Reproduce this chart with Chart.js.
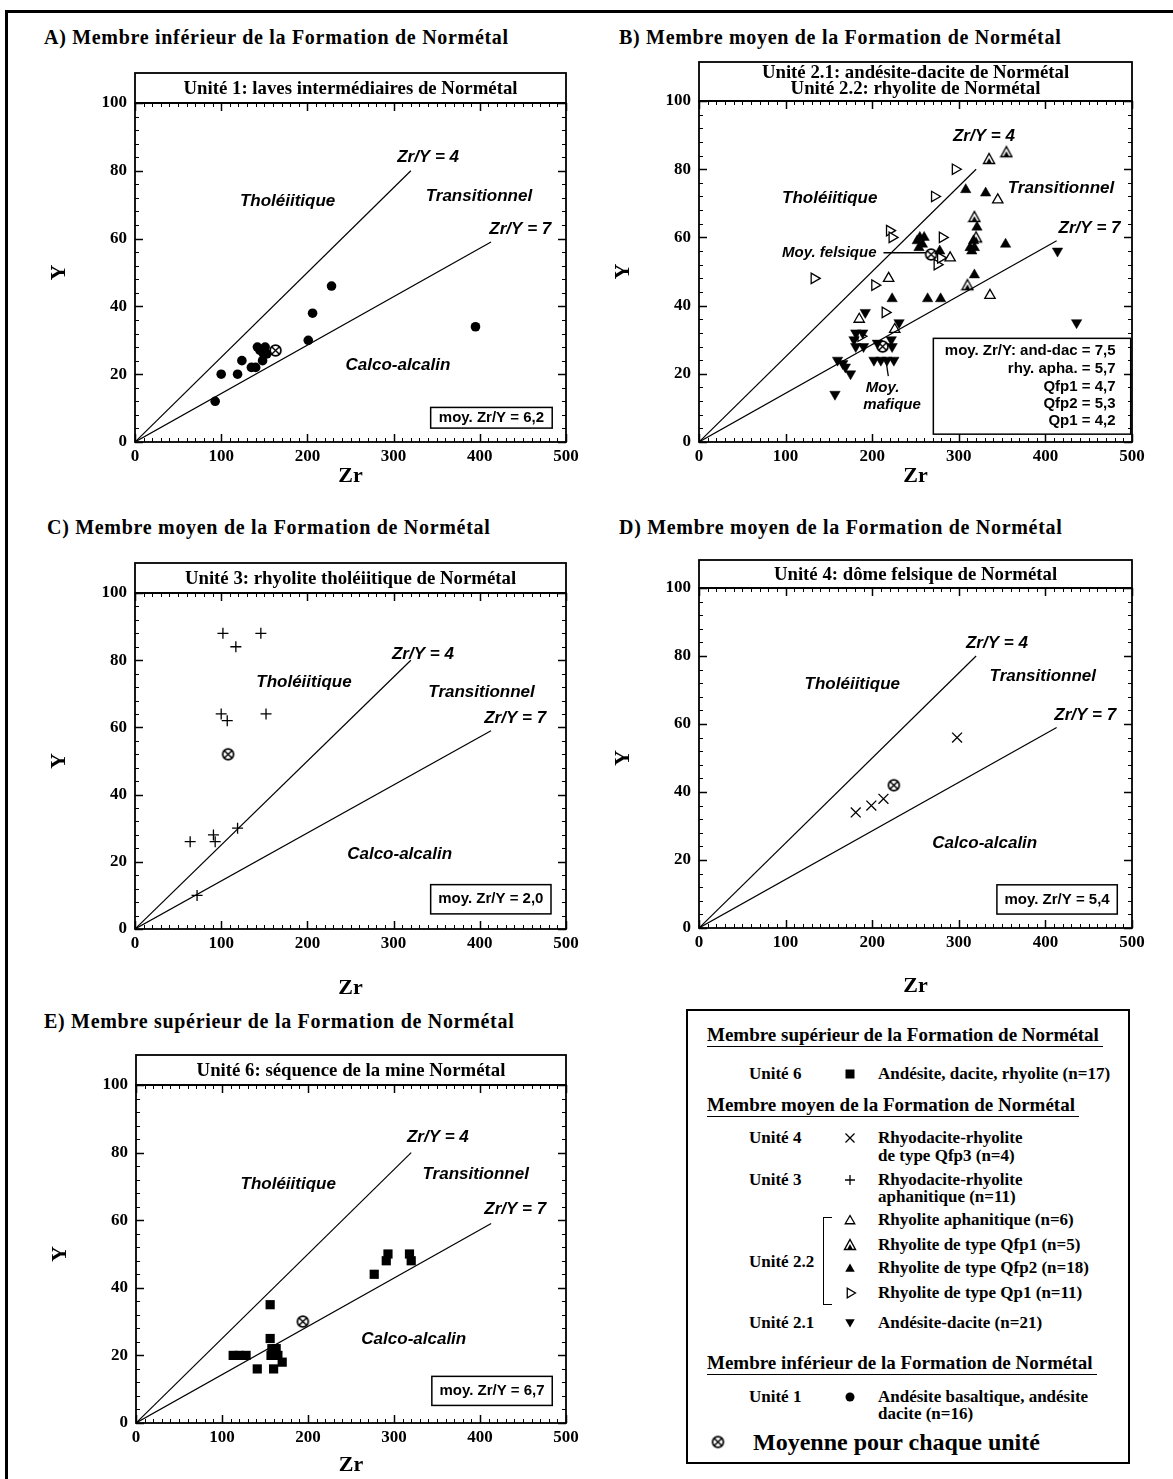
<!DOCTYPE html>
<html><head><meta charset="utf-8">
<script src="https://cdn.jsdelivr.net/npm/chart.js@4.4.1/dist/chart.umd.min.js"></script>
<style>
html,body{margin:0;padding:0;background:#fff;}
body{width:1173px;height:1479px;position:relative;overflow:hidden;font-family:"Liberation Serif",serif;color:#000;}
.frame{position:absolute;left:5px;top:10px;width:1300px;height:1600px;border-left:3px solid #000;border-top:3px solid #000;}
.ptitle{position:absolute;font:bold 20px "Liberation Serif",serif;letter-spacing:0.7px;line-height:24px;white-space:nowrap;}
canvas{position:absolute;}
.lg{position:absolute;font:bold 17px "Liberation Serif",serif;line-height:20px;white-space:nowrap;}
.lh{position:absolute;font:bold 19px "Liberation Serif",serif;line-height:22px;white-space:nowrap;border-bottom:1.5px solid #000;padding-right:4px;}
#legendBox{position:absolute;left:686px;top:1009px;width:440px;height:451px;border:2px solid #000;}
#bracket{position:absolute;left:823px;top:1217px;width:8px;height:86px;border-left:1.5px solid #000;border-top:1.5px solid #000;border-bottom:1.5px solid #000;}
</style></head>
<body>
<div class="frame"></div>
<div class="ptitle" style="left:44px;top:25px;">A) Membre inférieur de la Formation de Normétal</div>
<div class="ptitle" style="left:619px;top:25px;">B) Membre moyen de la Formation de Normétal</div>
<div class="ptitle" style="left:47px;top:515px;">C) Membre moyen de la Formation de Normétal</div>
<div class="ptitle" style="left:619px;top:515px;">D) Membre moyen de la Formation de Normétal</div>
<div class="ptitle" style="left:44px;top:1009px;">E) Membre supérieur de la Formation de Normétal</div>

<div id="legendBox"></div>
<div id="bracket"></div>
<div class="lh" style="left:707px;top:1024px;">Membre supérieur de la Formation de Normétal</div>
<div class="lg" style="left:749px;top:1064px;">Unité 6</div>
<div class="lg" style="left:878px;top:1064px;">Andésite, dacite, rhyolite (n=17)</div>
<div class="lh" style="left:707px;top:1094px;">Membre moyen de la Formation de Normétal</div>
<div class="lg" style="left:749px;top:1128px;">Unité 4</div>
<div class="lg" style="left:878px;top:1128px;">Rhyodacite-rhyolite</div>
<div class="lg" style="left:878px;top:1146px;">de type Qfp3 (n=4)</div>
<div class="lg" style="left:749px;top:1170px;">Unité 3</div>
<div class="lg" style="left:878px;top:1170px;">Rhyodacite-rhyolite</div>
<div class="lg" style="left:878px;top:1187px;">aphanitique (n=11)</div>
<div class="lg" style="left:878px;top:1210px;">Rhyolite aphanitique (n=6)</div>
<div class="lg" style="left:878px;top:1235px;">Rhyolite de type Qfp1 (n=5)</div>
<div class="lg" style="left:749px;top:1252px;">Unité 2.2</div>
<div class="lg" style="left:878px;top:1258px;">Rhyolite de type Qfp2 (n=18)</div>
<div class="lg" style="left:878px;top:1283px;">Rhyolite de type Qp1 (n=11)</div>
<div class="lg" style="left:749px;top:1313px;">Unité 2.1</div>
<div class="lg" style="left:878px;top:1313px;">Andésite-dacite (n=21)</div>
<div class="lh" style="left:707px;top:1352px;">Membre inférieur de la Formation de Normétal</div>
<div class="lg" style="left:749px;top:1387px;">Unité 1</div>
<div class="lg" style="left:878px;top:1387px;">Andésite basaltique, andésite</div>
<div class="lg" style="left:878px;top:1404px;">dacite (n=16)</div>
<div class="lg" style="left:753px;top:1428px;font-size:24px;line-height:28px;">Moyenne pour chaque unité</div>
<canvas id="legendSyms" width="440" height="451" style="left:688px;top:1011px;"></canvas>

<script>
// ================= DATA =================
const xTicks = [0, 100, 200, 300, 400, 500];
const yTicks = [0, 20, 40, 60, 80, 100];
const ratio4End = [320, 80];   // Zr/Y = 4 reference line end (Zr, Y)
const ratio7End = [413, 59];   // Zr/Y = 7 reference line end (Zr, Y)

// A) Unité 1 – andésite basaltique, andésite, dacite
const unit1Zr = [93, 100, 119, 124, 135, 140, 142, 151, 148, 149, 145, 153, 201, 206, 228, 395];
const unit1Y  = [12, 20, 20, 24, 22, 22, 28, 28, 24, 26, 27, 26, 30, 38, 46, 34];
const unit1Mean = [163, 27];

// B) Unité 2.1 – andésite-dacite
const andDacZr = [414, 436, 157, 192, 231, 160, 166, 169, 175, 202, 210, 217, 225, 206, 222, 223, 181, 189, 179, 181, 190];
const andDacY  = [56, 35, 14, 38, 35, 24, 23, 22, 20, 24, 24, 24, 24, 29, 30, 28, 32, 32, 30, 28, 28];
// B) Unité 2.2 – rhyolites
const rhyAphZr = [345, 290, 219, 336, 185, 226];
const rhyAphY  = [71, 54, 48, 43, 36, 33];
const qfp1Zr = [355, 335, 318, 320, 310];
const qfp1Y  = [85, 83, 66, 60, 46];
const qfp2Zr = [308, 331, 321, 317, 318, 315, 354, 252, 255, 258, 260, 254, 278, 318, 223, 264, 279, 313];
const qfp2Y  = [74, 73, 63, 59, 57, 56, 58, 59, 60, 58, 60, 57, 56, 49, 42, 42, 42, 57];
const qp1Zr = [296, 272, 220, 223, 281, 275, 279, 203, 133, 215, 187];
const qp1Y  = [80, 72, 62, 60, 60, 52, 54, 46, 48, 38, 31];
const felsicMean = [268, 55];
const maficMean = [212, 28];

// C) Unité 3 – rhyolite tholéiitique
const unit3Zr = [102, 146, 117, 100, 107, 152, 64, 91, 93, 119, 72];
const unit3Y  = [88, 88, 84, 64, 62, 64, 26, 28, 26, 30, 10];
const unit3Mean = [108, 52];

// D) Unité 4 – dôme felsique
const unit4Zr = [181, 199, 213, 298];
const unit4Y  = [34, 36, 38, 56];
const unit4Mean = [225, 42];

// E) Unité 6 – séquence de la mine
const unit6Zr = [113, 120, 128, 141, 156, 156, 157, 160, 163, 165, 170, 158, 277, 291, 293, 318, 320];
const unit6Y  = [20, 20, 20, 16, 35, 25, 20, 16, 22, 20, 18, 22, 44, 48, 50, 50, 48];
const unit6Mean = [194, 30];

// ================= helpers =================
const pts = (zr, y) => zr.map((v, i) => ({x: v, y: y[i]}));
const pt = (p) => [{x: p[0], y: p[1]}];

function meanSymbol() {
  const c = document.createElement('canvas'); c.width = 15; c.height = 15;
  const g = c.getContext('2d');
  g.beginPath(); g.arc(7.5, 7.5, 5.4, 0, 2 * Math.PI); g.fillStyle = '#fff'; g.fill();
  g.lineWidth = 1.7; g.strokeStyle = '#000'; g.stroke();
  const d = 3.6; g.lineWidth = 1.4; g.beginPath();
  g.moveTo(7.5 - d, 7.5 - d); g.lineTo(7.5 + d, 7.5 + d);
  g.moveTo(7.5 + d, 7.5 - d); g.lineTo(7.5 - d, 7.5 + d); g.stroke();
  return c;
}
function triDotSymbol() {
  const c = document.createElement('canvas'); c.width = 14; c.height = 14;
  const g = c.getContext('2d');
  g.beginPath(); g.moveTo(7, 1.5); g.lineTo(12.5, 11.5); g.lineTo(1.5, 11.5); g.closePath();
  g.fillStyle = '#fff'; g.fill(); g.lineWidth = 1.4; g.strokeStyle = '#000'; g.stroke();
  g.beginPath(); g.moveTo(7, 6); g.lineTo(9.6, 11); g.lineTo(4.4, 11); g.closePath();
  g.fillStyle = '#000'; g.fill();
  return c;
}
const MEAN = meanSymbol();
const TRIDOT = triDotSymbol();

const ratioLines = () => [
  {data: [{x: 0, y: 0}, {x: ratio4End[0], y: ratio4End[1]}], showLine: true, pointRadius: 0, borderColor: '#000', borderWidth: 1.2},
  {data: [{x: 0, y: 0}, {x: ratio7End[0], y: ratio7End[1]}], showLine: true, pointRadius: 0, borderColor: '#000', borderWidth: 1.2}
];
const meanSet = (p) => ({data: pt(p), pointStyle: MEAN, pointRadius: 7, borderColor: '#000', backgroundColor: '#fff'});

const LBL = 'italic bold 17px "Liberation Sans", Arial, sans-serif';
const stdLabels = (z4, th, tr, z7, ca) => [
  {t: 'Zr/Y = 4', x: z4[0], y: z4[1]},
  {t: 'Tholéiitique', x: th[0], y: th[1]},
  {t: 'Transitionnel', x: tr[0], y: tr[1]},
  {t: 'Zr/Y = 7', x: z7[0], y: z7[1]},
  ...(ca ? [{t: 'Calco-alcalin', x: ca[0], y: ca[1]}] : [])
];

const panels = [
  { id: 'A', left: 135, right: 566, top: 103, bottom: 442, boxTop: 73, xTitle: 36,
    sub: [['Unité 1: laves intermédiaires de Normétal', 16]],
    sets: [...ratioLines(),
      {data: pts(unit1Zr, unit1Y), pointStyle: 'circle', pointRadius: 4.8, backgroundColor: '#000', borderColor: '#000', borderWidth: 0},
      meanSet(unit1Mean)],
    labels: stdLabels([340, 84], [177, 71], [399, 72.5], [447, 62.6], [305, 22.5]),
    box: {x1: 343, x2: 484, y1: 4.1, y2: 10.2, align: 'center', lines: [{t: 'moy. Zr/Y = 6,2', y: 7.15}]}
  },
  { id: 'B', left: 699, right: 1132, top: 101, bottom: 442, boxTop: 62, xTitle: 36,
    sub: [['Unité 2.1: andésite-dacite de Normétal', 11], ['Unité 2.2: rhyolite de Normétal', 27]],
    sets: [...ratioLines(),
      {data: pts(andDacZr, andDacY), pointStyle: 'triangle', rotation: 180, pointRadius: 6, backgroundColor: '#000', borderColor: '#000', borderWidth: 0.5},
      {data: pts(qfp2Zr, qfp2Y), pointStyle: 'triangle', pointRadius: 6, backgroundColor: '#000', borderColor: '#000', borderWidth: 0.5},
      {data: pts(rhyAphZr, rhyAphY), pointStyle: 'triangle', pointRadius: 6, backgroundColor: '#fff', borderColor: '#000', borderWidth: 1.3},
      {data: pts(qfp1Zr, qfp1Y), pointStyle: TRIDOT, pointRadius: 6, backgroundColor: '#fff', borderColor: '#000'},
      {data: pts(qp1Zr, qp1Y), pointStyle: 'triangle', rotation: 90, pointRadius: 6, backgroundColor: '#fff', borderColor: '#000', borderWidth: 1.3},
      meanSet(felsicMean), meanSet(maficMean)],
    labels: [...stdLabels([329, 89.5], [151, 71.4], [418, 74.3], [451, 62.6], null),
      {t: 'Moy. felsique', x: 205, y: 55.5, a: 'right', f: 'italic bold 15px "Liberation Sans", Arial, sans-serif'},
      {t: 'Moy.', x: 212, y: 16, f: 'italic bold 15px "Liberation Sans", Arial, sans-serif'},
      {t: 'mafique', x: 223, y: 11, f: 'italic bold 15px "Liberation Sans", Arial, sans-serif'}],
    leaders: [[213, 55.5, 262, 55.5], [218.6, 19.3, 215.5, 24.5]],
    box: {x1: 270.6, x2: 498.5, y1: 2.3, y2: 30.4, align: 'right', tx: 481,
      lines: [{t: 'moy. Zr/Y: and-dac = 7,5', y: 26.8}, {t: 'rhy. apha. = 5,7', y: 21.4},
              {t: 'Qfp1 = 4,7', y: 16.2}, {t: 'Qfp2 = 5,3', y: 11.1}, {t: 'Qp1 = 4,2', y: 6.2}]}
  },
  { id: 'C', left: 135, right: 566, top: 593, bottom: 929, boxTop: 563, xTitle: 61,
    sub: [['Unité 3: rhyolite tholéiitique de Normétal', 16]],
    sets: [...ratioLines(),
      {data: pts(unit3Zr, unit3Y), pointStyle: 'cross', pointRadius: 5.5, borderColor: '#000', borderWidth: 1.3},
      meanSet(unit3Mean)],
    labels: stdLabels([334, 81.8], [196, 73.3], [402, 70.5], [441, 62.7], [307, 22.1]),
    box: {x1: 343, x2: 482.6, y1: 4.5, y2: 13.2, align: 'center', lines: [{t: 'moy. Zr/Y = 2,0', y: 8.85}]}
  },
  { id: 'D', left: 699, right: 1132, top: 588, bottom: 928, boxTop: 560, xTitle: 60,
    sub: [['Unité 4: dôme felsique de Normétal', 15]],
    sets: [...ratioLines(),
      {data: pts(unit4Zr, unit4Y), pointStyle: 'crossRot', pointRadius: 7, borderColor: '#000', borderWidth: 1.3},
      meanSet(unit4Mean)],
    labels: stdLabels([344, 83.8], [177, 71.6], [397, 74], [446, 62.7], [330, 25]),
    box: {x1: 344, x2: 483, y1: 4.1, y2: 12.7, align: 'center', lines: [{t: 'moy. Zr/Y = 5,4', y: 8.4}]}
  },
  { id: 'E', left: 136, right: 566, top: 1085, bottom: 1423, boxTop: 1055, xTitle: 44,
    sub: [['Unité 6: séquence de la mine Normétal', 16]],
    sets: [...ratioLines(),
      {data: pts(unit6Zr, unit6Y), pointStyle: 'rect', pointRadius: 6.5, backgroundColor: '#000', borderColor: '#000', borderWidth: 0},
      meanSet(unit6Mean)],
    labels: stdLabels([351, 84.5], [177, 70.7], [395, 73.6], [441, 63.2], [323, 24.8]),
    box: {x1: 344, x2: 484, y1: 5.2, y2: 13.8, align: 'center', lines: [{t: 'moy. Zr/Y = 6,7', y: 9.5}]}
  }
];

// ================= plugin: frame, inward ticks, subtitle box, annotations =================
const decor = {
  id: 'decor',
  beforeDatasetsDraw(chart, args, o) {
    const ctx = chart.ctx, xs = chart.scales.x, ys = chart.scales.y;
    ctx.save();
    if (o.box) {
      const b = o.box;
      const x1 = xs.getPixelForValue(b.x1), x2 = xs.getPixelForValue(b.x2);
      const y1 = ys.getPixelForValue(b.y2), y2 = ys.getPixelForValue(b.y1);
      ctx.fillStyle = '#fff'; ctx.fillRect(x1, y1, x2 - x1, y2 - y1);
      ctx.lineWidth = 1.5; ctx.strokeStyle = '#000'; ctx.strokeRect(x1, y1, x2 - x1, y2 - y1);
      ctx.fillStyle = '#000'; ctx.font = 'bold 15px "Liberation Sans", Arial, sans-serif';
      ctx.textBaseline = 'middle'; ctx.textAlign = b.align;
      b.lines.forEach(l => {
        const tx = b.align === 'center' ? (x1 + x2) / 2 : xs.getPixelForValue(b.tx);
        ctx.fillText(l.t, tx, ys.getPixelForValue(l.y));
      });
    }
    ctx.strokeStyle = '#000'; ctx.lineWidth = 1.3;
    (o.leaders || []).forEach(s => {
      ctx.beginPath();
      ctx.moveTo(xs.getPixelForValue(s[0]), ys.getPixelForValue(s[1]));
      ctx.lineTo(xs.getPixelForValue(s[2]), ys.getPixelForValue(s[3]));
      ctx.stroke();
    });
    ctx.fillStyle = '#000'; ctx.textBaseline = 'middle';
    (o.labels || []).forEach(l => {
      ctx.font = l.f || LBL; ctx.textAlign = l.a || 'center';
      ctx.fillText(l.t, xs.getPixelForValue(l.x), ys.getPixelForValue(l.y));
    });
    ctx.restore();
  },
  afterDraw(chart, args, o) {
    const ctx = chart.ctx, xs = chart.scales.x, ys = chart.scales.y, a = chart.chartArea;
    ctx.save();
    ctx.strokeStyle = '#000'; ctx.lineWidth = 1;
    const seg = (x1, y1, x2, y2) => { ctx.beginPath(); ctx.moveTo(x1, y1); ctx.lineTo(x2, y2); ctx.stroke(); };
    for (let v = 0; v <= 500; v += 10) {
      const px = Math.round(xs.getPixelForValue(v)) + 0.5, L = v % 100 === 0 ? 8 : 4;
      ctx.lineWidth = v % 100 === 0 ? 1.5 : 1;
      seg(px, a.bottom, px, a.bottom - L); seg(px, a.top, px, a.top + L);
    }
    for (let v = 0; v <= 100; v += 4) {
      const py = Math.round(ys.getPixelForValue(v)) + 0.5, L = v % 20 === 0 ? 8 : 4;
      ctx.lineWidth = v % 20 === 0 ? 1.5 : 1;
      seg(a.left, py, a.left + L, py); seg(a.right, py, a.right - L, py);
    }
    ctx.lineWidth = 1.8;
    ctx.strokeRect(a.left, a.top, a.right - a.left, a.bottom - a.top);
    // subtitle box
    const bt = o.boxTopLocal;
    ctx.strokeRect(a.left, bt, a.right - a.left, a.top - bt);
    ctx.fillStyle = '#000'; ctx.font = 'bold 18.8px "Liberation Serif", serif';
    ctx.textAlign = 'center'; ctx.textBaseline = 'middle';
    o.sub.forEach(s => ctx.fillText(s[0], (a.left + a.right) / 2, bt + s[1]));
    ctx.restore();
  }
};

Chart.defaults.font.family = '"Liberation Serif", serif';
Chart.defaults.color = '#000';

const Y_W = 89, PAD_L = 6, PAD_R = 30, PAD_B = 6;
panels.forEach(p => {
  const cl = p.left - Y_W - PAD_L, ct = p.boxTop - 4;
  const xH = p.xTitle + 12;
  const cw = (p.right + PAD_R) - cl, ch = (p.bottom + xH + PAD_B) - ct;
  const cv = document.createElement('canvas');
  cv.width = cw; cv.height = ch;
  cv.style.left = cl + 'px'; cv.style.top = ct + 'px';
  cv.style.width = cw + 'px'; cv.style.height = ch + 'px';
  document.body.appendChild(cv);
  new Chart(cv.getContext('2d'), {
    type: 'scatter',
    data: {datasets: p.sets},
    options: {
      responsive: false, animation: false, devicePixelRatio: 1, events: [],
      layout: {padding: {left: PAD_L, right: PAD_R, top: p.top - ct, bottom: PAD_B}},
      plugins: {legend: {display: false}, tooltip: {enabled: false},
        decor: {box: p.box, labels: p.labels, leaders: p.leaders, sub: p.sub, boxTopLocal: 4}},
      scales: {
        x: {type: 'linear', min: xTicks[0], max: xTicks[xTicks.length - 1],
          afterBuildTicks: s => { s.ticks = xTicks.map(v => ({value: v})); },
          afterFit: s => { s.height = xH; },
          grid: {display: false, drawTicks: false}, border: {display: false},
          ticks: {padding: 4, maxRotation: 0, autoSkip: false, font: {size: 17, weight: 'bold'}, color: '#000'},
          title: {display: true, text: 'Zr', padding: 0, font: {size: 22, weight: 'bold'}, color: '#000'}},
        y: {type: 'linear', min: yTicks[0], max: yTicks[yTicks.length - 1],
          afterBuildTicks: s => { s.ticks = yTicks.map(v => ({value: v})); },
          afterFit: s => { s.width = Y_W; },
          grid: {display: false, drawTicks: false}, border: {display: false},
          ticks: {padding: 8, autoSkip: false, font: {size: 17, weight: 'bold'}, color: '#000'},
          title: {display: true, text: 'Y', padding: 0, font: {size: 22, weight: 'bold'}, color: '#000'}}
      }
    },
    plugins: [decor]
  });
});

// ================= legend symbols =================
(function () {
  const g = document.getElementById('legendSyms').getContext('2d');
  const ox = 688, oy = 1011;
  const X = 850 - ox;
  const tri = (x, y, r, rot) => {
    let ang = rot * Math.PI / 180;
    g.beginPath();
    for (let k = 0; k < 3; k++) {
      const px = x + Math.sin(ang) * r, py = y - Math.cos(ang) * r;
      k ? g.lineTo(px, py) : g.moveTo(px, py);
      ang += 2 * Math.PI / 3;
    }
    g.closePath();
  };
  g.strokeStyle = '#000'; g.fillStyle = '#000'; g.lineWidth = 1.3;
  g.fillRect(X - 4.5, 1074 - oy - 4.5, 9, 9);
  let y = 1138 - oy; g.beginPath(); g.moveTo(X - 4.5, y - 4.5); g.lineTo(X + 4.5, y + 4.5); g.moveTo(X + 4.5, y - 4.5); g.lineTo(X - 4.5, y + 4.5); g.stroke();
  y = 1180 - oy; g.beginPath(); g.moveTo(X - 5, y); g.lineTo(X + 5, y); g.moveTo(X, y - 5); g.lineTo(X, y + 5); g.stroke();
  tri(X, 1221 - oy, 5.5, 0); g.stroke();
  g.drawImage(TRIDOT, X - 7, 1245 - oy - 7);
  tri(X, 1269 - oy, 5.5, 0); g.fill();
  tri(X, 1293 - oy, 5.5, 90); g.stroke();
  tri(X, 1322 - oy, 5.5, 180); g.fill();
  g.beginPath(); g.arc(X, 1397 - oy, 4.5, 0, 2 * Math.PI); g.fill();
  g.drawImage(MEAN, 718 - ox - 7.5, 1442 - oy - 7.5);
})();
</script>
</body></html>
